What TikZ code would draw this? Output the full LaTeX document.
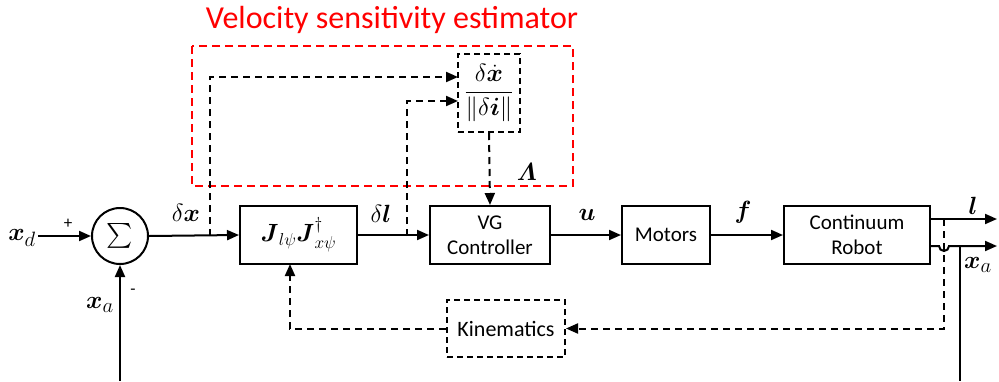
\documentclass[tikz,border=0pt]{standalone}
\usepackage{amsmath}
\usepackage{fontspec}
\usepackage{tikz}
\usetikzlibrary{arrows.meta,calc}
\newfontfamily\calibri{Carlito}
\definecolor{EstRed}{RGB}{255,0,0}

\begin{document}
\begin{tikzpicture}[x=1pt,y=-1pt,
  blk/.style={draw,line width=2pt,minimum height=58,inner sep=0pt,align=center,font=\calibri\fontsize{21}{25}\selectfont},
  dblk/.style={blk,dash pattern=on 6pt off 4pt},
  sig/.style={line width=2pt,-{Triangle[length=12pt,width=10pt]}},
  fb/.style={sig,dash pattern=on 7pt off 5pt},
  lab/.style={inner sep=0pt,font=\fontsize{31}{35}\selectfont},
  sgn/.style={inner sep=0pt,font=\calibri\fontsize{17}{19}\selectfont}]
\useasboundingbox (0,0) rectangle (999,381);
% estimator frame
\draw[EstRed,line width=2pt,dash pattern=on 8pt off 5pt] (192,46) rectangle (573,186);
\node[inner sep=0pt,text=EstRed,font=\calibri\fontsize{32}{36}\selectfont] (title) at (392,20) {Velocity sensitivity estimator};
% blocks
\node[draw,circle,line width=2pt,minimum size=56,inner sep=0pt,font=\fontsize{25}{29}\selectfont] (sum) at (120,236) {$\textstyle\sum$};
\node[blk,minimum width=117] (jac) at (298.5,235) {\fontsize{23}{27}\selectfont$\boldsymbol{J}_{l\psi}\boldsymbol{J}^{\dagger}_{x\psi}$};
\node[dblk,minimum width=62,minimum height=78] (frac) at (489,93) {\fontsize{30}{34}\selectfont$\dfrac{\delta\dot{\boldsymbol{x}}}{\|\delta\boldsymbol{i}\|}$};
\node[blk,minimum width=120] (vg) at (490,235) {VG\\Controller};
\node[blk,minimum width=88] (mot) at (666,235) {Motors};
\node[blk,minimum width=146] (rob) at (857,235) {Continuum\\Robot};
\node[dblk,minimum width=118,minimum height=57,font=\calibri\fontsize{22}{26}\selectfont] (kin) at (506,328.5) {Kinematics};
% points
\coordinate (xd) at (38,236);
\coordinate (xain) at (120,381);
\coordinate (bx) at (210,236);
\coordinate (bl) at (407,236);
\coordinate (fin1) at (458,77);
\coordinate (fin2) at (458,101);
\coordinate (lout) at (997,219);
\coordinate (xaout) at (997,246);
\coordinate (xadown) at (960,381);
\coordinate (tap) at (944,219);
\coordinate (jin) at (290,264);
% main path
\draw[sig] (xd) -- (sum.west);
\draw[sig] (xain) -- (sum.south);
\draw[sig] (sum.east) -- (jac.west);
\draw[sig] (jac.east) -- (vg.west);
\draw[sig] (vg.east) -- (mot.west);
\draw[sig] (mot.east) -- (rob.west);
\draw[sig] (rob.east |- lout) -- (lout);
\draw[sig] (rob.east |- xaout) -- (939,246) arc (180:0:5) -- (xaout);
\draw[line width=2pt] (960,246) -- (xadown);
% estimator and feedback
\draw[fb] (bx) |- (fin1);
\draw[fb] (bl) |- (fin2);
\draw[fb] (frac.south) -- (vg.north);
\draw[fb] (tap) |- (kin.east);
\draw[fb] (kin.west) -| (jin);
% labels
\node[lab] (lxd) at (22,238) {$\boldsymbol{x}_d$};
\node[sgn] (plus) at (68,224) {+};
\node[sgn] (minus) at (133,292) {-};
\node[lab] (lxa) at (100,305) {$\boldsymbol{x}_a$};
\node[lab] (ldx) at (186,213) {$\delta\boldsymbol{x}$};
\node[lab] (ldl) at (381,214) {$\delta\boldsymbol{l}$};
\node[lab] (lu) at (587,215) {$\boldsymbol{u}$};
\node[lab] (lf) at (743,212) {$\boldsymbol{f}$};
\node[lab] (lL) at (527,172) {$\boldsymbol{\varLambda}$};
\node[lab] (ll) at (973,206) {$\boldsymbol{l}$};
\node[lab] (lxa2) at (978,265) {$\boldsymbol{x}_a$};
\end{tikzpicture}
\end{document}
